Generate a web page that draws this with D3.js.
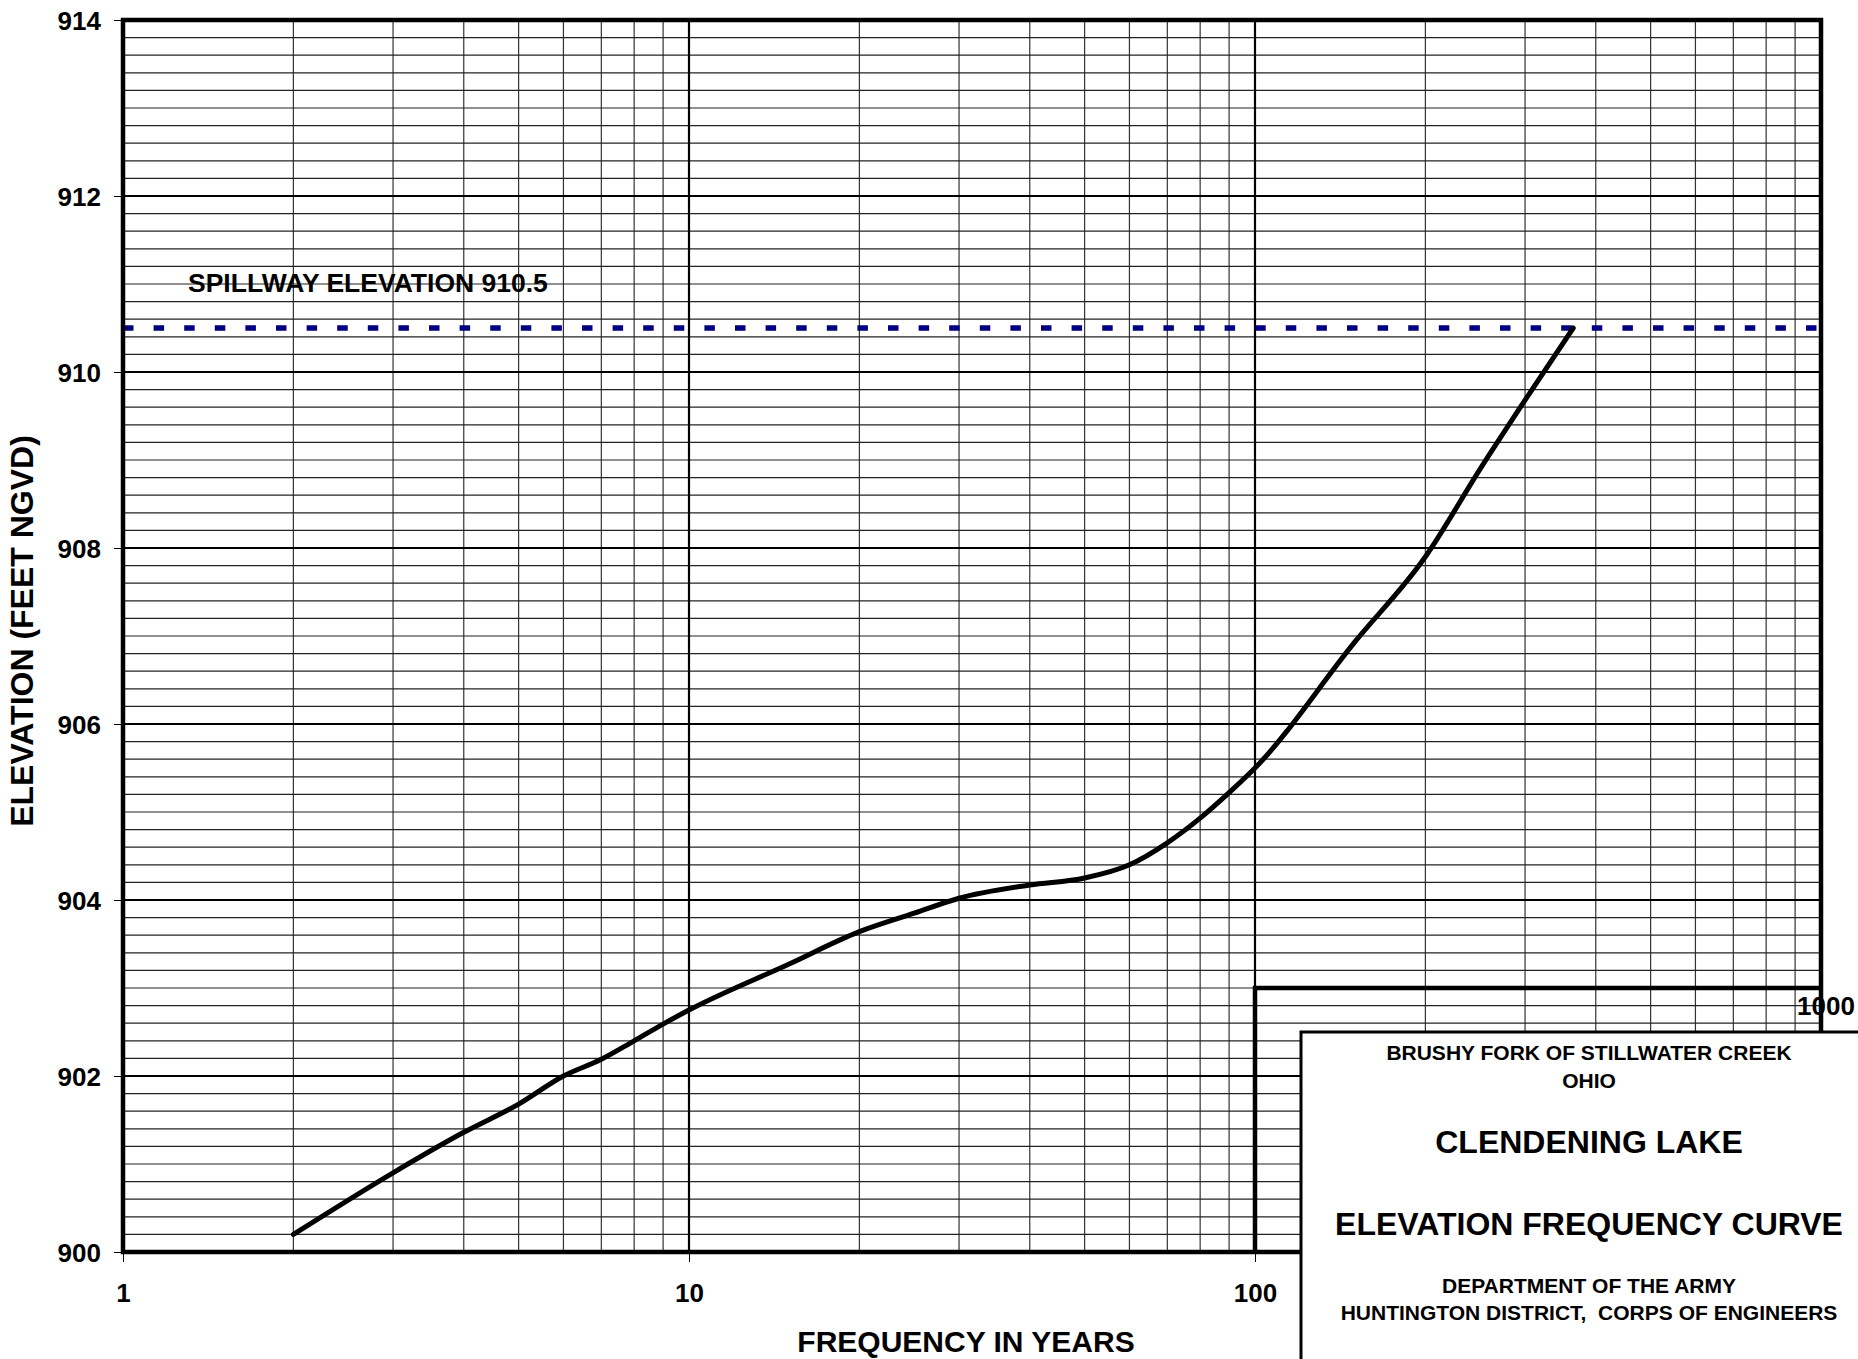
<!DOCTYPE html>
<html>
<head>
<meta charset="utf-8">
<script src="https://cdn.jsdelivr.net/npm/d3@7"></script>
<style>
  body { margin: 0; background: #fff; }
  svg { display: block; }
  text { font-family: "Liberation Sans", Arial, sans-serif; font-weight: bold; fill: #000; white-space: pre; }
</style>
</head>
<body>
<svg id="chart"></svg>
<script>
// frequency (years) vs elevation (ft NGVD)
const freq = [2, 3, 4, 5, 6, 7, 8, 9, 10, 15, 20, 25, 30, 40, 50, 60, 70, 80, 90, 100, 150, 200, 250, 300, 365]
const elev = [900.2, 900.9, 901.36, 901.68, 902.0, 902.19, 902.4, 902.59, 902.75, 903.27, 903.64, 903.85, 904.02, 904.17, 904.25, 904.4, 904.65, 904.93, 905.22, 905.5, 906.93, 907.9, 908.9, 909.68, 910.5]

const spillway = 910.5
const yTicks = [900, 902, 904, 906, 908, 910, 912, 914]
const xTicks = [1, 10, 100]
const boxLevel = 903

const titleLines = [
  {text: 'BRUSHY FORK OF STILLWATER CREEK', size: 21, y: 1060},
  {text: 'OHIO', size: 21, y: 1088},
  {text: 'CLENDENING LAKE', size: 32, y: 1153},
  {text: 'ELEVATION FREQUENCY CURVE', size: 32, y: 1235},
  {text: 'DEPARTMENT OF THE ARMY', size: 21, y: 1293},
  {text: 'HUNTINGTON DISTRICT,  CORPS OF ENGINEERS', size: 21, y: 1320}
]

const width = 1858, height = 1359
const padL = 123, padR = 1821, padT = 20, padB = 1252

const svg = d3.select('#chart').attr('width', width).attr('height', height)

const x = d3.scaleLog().domain([1, 1000]).range([padL, padR])
const y = d3.scaleLinear().domain([900, 914]).range([padB, padT])

// minor grid
let minorX = []
for (let d of [1, 10, 100]) {
  for (let k = 2; k <= 9; k++) minorX.push(k * d)
}
let minorY = d3.range(0, 71).map(i => 900 + i * 0.2)

const grid = svg.append('g')
grid.selectAll('.vx').data(minorX).enter().append('line')
  .attr('x1', d => x(d)).attr('x2', d => x(d))
  .attr('y1', padT).attr('y2', padB)
  .attr('stroke', '#333').attr('stroke-width', 1.2)
grid.selectAll('.hy').data(minorY).enter().append('line')
  .attr('x1', padL).attr('x2', padR)
  .attr('y1', d => y(d)).attr('y2', d => y(d))
  .attr('stroke', '#222').attr('stroke-width', 1.2)

// major grid
grid.selectAll('.mx').data([10, 100]).enter().append('line')
  .attr('x1', d => x(d)).attr('x2', d => x(d))
  .attr('y1', padT).attr('y2', padB)
  .attr('stroke', '#000').attr('stroke-width', 2.2)
grid.selectAll('.my').data(yTicks).enter().append('line')
  .attr('x1', padL).attr('x2', padR)
  .attr('y1', d => y(d)).attr('y2', d => y(d))
  .attr('stroke', '#000').attr('stroke-width', 2.2)

// spillway line
svg.append('line')
  .attr('x1', padL).attr('x2', padR)
  .attr('y1', y(spillway)).attr('y2', y(spillway))
  .attr('stroke', '#000080').attr('stroke-width', 5.5)
  .attr('stroke-dasharray', '10.5,20.1')

svg.append('text')
  .attr('x', 188).attr('y', y(spillway) - 36)
  .style('font-size', '26.5px')
  .text('SPILLWAY ELEVATION ' + spillway)

// curve
const line = d3.line()
  .x((d, i) => x(freq[i]))
  .y((d, i) => y(elev[i]))
  .curve(d3.curveMonotoneX)
svg.append('path')
  .attr('d', line(freq))
  .attr('fill', 'none')
  .attr('stroke', '#000')
  .attr('stroke-width', 5)
  .attr('stroke-linecap', 'round')

// plot border
svg.append('rect')
  .attr('x', padL).attr('y', padT)
  .attr('width', padR - padL).attr('height', padB - padT)
  .attr('fill', 'none').attr('stroke', '#000').attr('stroke-width', 4.5)

// inner box between 100 and 1000 below 903
svg.append('path')
  .attr('d', `M${x(100)},${padB}V${y(boxLevel)}H${x(1000)}`)
  .attr('fill', 'none').attr('stroke', '#000').attr('stroke-width', 4.5)

// axes
let yAxis = d3.axisLeft(y).tickValues(yTicks).tickSize(9).tickPadding(13).tickFormat(d3.format('d'))
let yAxisG = svg.append('g').attr('transform', `translate(${padL},0)`).call(yAxis)
yAxisG.select('.domain').remove()
yAxisG.selectAll('text').style('font-size', '26px').attr('dy', '0.36em')
  .style('font-family', '"Liberation Sans", Arial, sans-serif').style('font-weight', 'bold')

let xAxis = d3.axisBottom(x).tickValues(xTicks).tickSize(10).tickPadding(22).tickFormat(d3.format('d'))
let xAxisG = svg.append('g').attr('transform', `translate(0,${padB})`).call(xAxis)
xAxisG.select('.domain').remove()
xAxisG.selectAll('text').style('font-size', '26px')
  .style('font-family', '"Liberation Sans", Arial, sans-serif').style('font-weight', 'bold')

// 1000 label sits at the inner box
svg.append('text')
  .attr('x', x(1000) + 5).attr('y', y(boxLevel) + 27)
  .attr('text-anchor', 'middle')
  .style('font-size', '26px')
  .text('1000')

// axis titles
svg.append('text')
  .attr('x', 966).attr('y', 1352)
  .attr('text-anchor', 'middle')
  .style('font-size', '30px')
  .text('FREQUENCY IN YEARS')

svg.append('text')
  .attr('transform', 'translate(33,631) rotate(-90)')
  .attr('text-anchor', 'middle')
  .style('font-size', '32px')
  .text('ELEVATION (FEET NGVD)')

// title box
svg.append('rect')
  .attr('x', 1301).attr('y', 1032)
  .attr('width', 600).attr('height', 400)
  .attr('fill', '#fff').attr('stroke', '#000').attr('stroke-width', 3)

svg.selectAll('.title').data(titleLines).enter().append('text')
  .attr('x', 1589).attr('y', d => d.y)
  .attr('text-anchor', 'middle')
  .style('font-size', d => d.size + 'px')
  .text(d => d.text)
</script>
</body>
</html>
